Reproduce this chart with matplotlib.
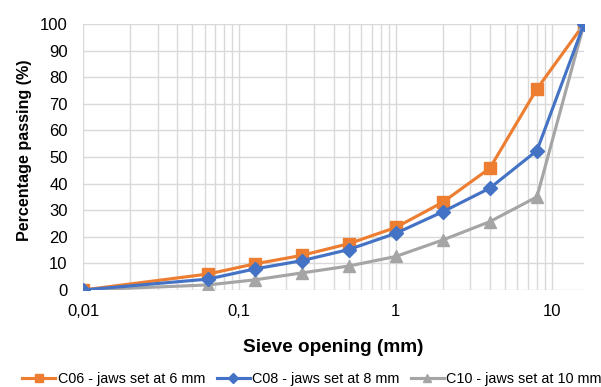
import matplotlib
matplotlib.use("Agg")
import matplotlib.pyplot as plt
from matplotlib.ticker import FixedLocator, LogLocator, NullFormatter

plt.rcParams['font.family'] = ['Liberation Sans', 'DejaVu Sans']

# sieve openings (mm) and % passing
sieve = [0.01, 0.063, 0.125, 0.25, 0.5, 1, 2, 4, 8, 16]
c06 = [0, 6, 9.8, 13, 17.4, 23.5, 33, 45.8, 75.6, 100]
c08 = [0, 4.1, 7.9, 11, 15.2, 21.3, 29.4, 38.3, 52.4, 100]
c10 = [0, 1.9, 3.8, 6.4, 9, 12.6, 18.8, 25.7, 35, 100]
xticks = [0.01, 0.1, 1, 10]
xtick_labels = ["0,01", "0,1", "1", "10"]

W, H = 601, 387
fig = plt.figure(figsize=(W/100, H/100), dpi=100)
ax = fig.add_axes([83/W, 1 - 290/H, (584-83)/W, (290-24)/H])

ax.plot(sieve, c10, marker="^", color="#A5A5A5", lw=2.25, ms=8.5,
        label="C10 - jaws set at 10 mm", zorder=3)
ax.plot(sieve, c08, marker="D", color="#4472C4", lw=2.25, ms=7,
        label="C08 - jaws set at 8 mm", zorder=4)
ax.plot(sieve, c06, marker="s", color="#ED7D31", lw=2.25, ms=8,
        label="C06 - jaws set at 6 mm", zorder=2)

ax.set_xscale("log")
ax.set_xlim(0.01, 16)
ax.set_ylim(0, 100)
ax.set_yticks(range(0, 101, 10))
ax.xaxis.set_major_locator(FixedLocator(xticks))
ax.set_xticklabels(xtick_labels)
ax.xaxis.set_minor_locator(LogLocator(base=10, subs=range(2, 10)))
ax.xaxis.set_minor_formatter(NullFormatter())

ax.grid(True, which="both", color="#d9d9d9", lw=1)
ax.set_axisbelow(True)
for s in ax.spines.values():
    s.set_visible(False)
ax.tick_params(which="both", length=0, labelsize=12, colors="#000000")
ax.tick_params(axis="x", pad=10)
ax.tick_params(axis="y", pad=11)

# axis titles
fig.text(333/W, 1 - 347/H, "Sieve opening (mm)", ha="center", va="center",
         fontsize=13.7, fontweight="bold")
fig.text(25/W, 1 - 150/H, "Percentage passing (%)", ha="center", va="center",
         rotation=90, fontsize=11.6, fontweight="bold")

h, l = ax.get_legend_handles_labels()
fig.legend(h[::-1], l[::-1], loc="center", bbox_to_anchor=(312/W, 1 - 379/H), ncol=3,
           frameon=False, fontsize=10.4, handlelength=2.3, handletextpad=0.15,
           columnspacing=0.8, borderaxespad=0, borderpad=0, markerscale=0.75)

fig.savefig("out.png", dpi=100)
